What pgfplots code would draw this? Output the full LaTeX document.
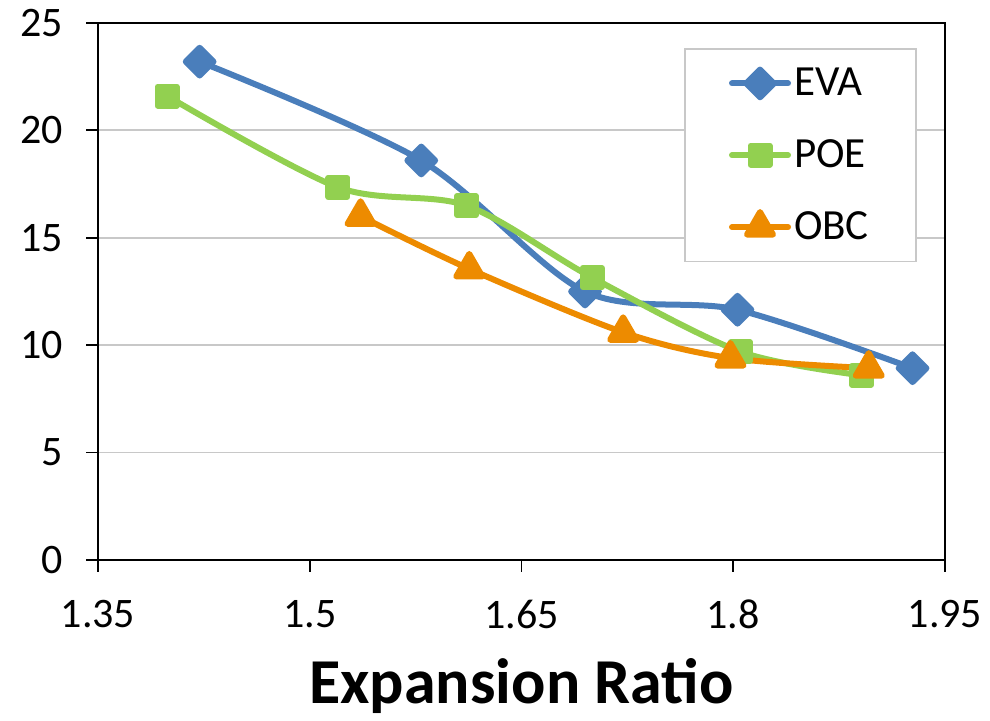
\documentclass[border=0pt]{standalone}
\usepackage{pgfplots}
\pgfplotsset{compat=1.18}
\usepackage{fontspec}
\setmainfont{Carlito}
\definecolor{evablue}{HTML}{4A7EBB}
\definecolor{poegreen}{HTML}{92D050}
\definecolor{obcorange}{HTML}{ED8B00}
\definecolor{gridgray}{HTML}{C8C8C8}
\begin{document}
\begin{tikzpicture}
\begin{axis}[
  width=423.5pt, height=268.5pt, scale only axis,
  xmin=1.35, xmax=1.95, ymin=0, ymax=25,
  xtick={1.35,1.5,1.65,1.8,1.95},
  xticklabels={1.35,1.5,1.65,1.8,1.95},
  ytick={0,5,10,15,20,25},
  yticklabels={0,5,10,15,20,25},
  axis line style={black, line width=1.2pt},
  tick style={black, line width=0.9pt},
  tick align=outside, major tick length=6pt,
  xtick pos=bottom, ytick pos=left,
  ymajorgrids, grid style={gridgray, line width=0.9pt},
  ticklabel style={font=\fontsize{21}{25}\selectfont},
  xticklabel style={yshift=-10.5pt},
  yticklabel style={xshift=-8pt},
  xlabel={\textbf{Expansion Ratio}},
  xlabel style={font=\fontsize{32}{38}\selectfont, yshift=-8pt},
  legend style={at={(0.692,0.953)}, anchor=north west, draw=gridgray, line width=0.9pt,
    font=\fontsize{21.5}{25}\selectfont, inner xsep=22pt, inner ysep=7.5pt,
    row sep=16.5pt, legend cell align=left,
    nodes={inner xsep=1.5pt}},
  legend image code/.code={\draw[mark repeat=2,mark phase=2,#1] plot coordinates {(0pt,0pt) (14pt,0pt) (28pt,0pt)};},
  every axis plot/.append style={line width=3pt, line cap=round, line join=round},
  clip=false,
]
\addplot[evablue, smooth, mark=square*, mark size=4.9pt, mark options={rotate=45, solid}] coordinates {
(1.422,23.2) (1.579,18.6) (1.695,12.5) (1.803,11.65) (1.927,8.93)};
\addlegendentry{EVA}
\addplot[poegreen, smooth, mark=square*, mark size=4.75pt] coordinates {
(1.399,21.6) (1.520,17.35) (1.611,16.5) (1.700,13.15) (1.805,9.7) (1.891,8.6)};
\addlegendentry{POE}
\addplot[obcorange, smooth, mark=triangle*, mark size=7.5pt] coordinates {
(1.536,16.0) (1.613,13.55) (1.722,10.6) (1.798,9.4) (1.896,8.93)};
\addlegendentry{OBC}
\end{axis}
\path (current axis.north west) ++(-49pt,11.5pt);
\path (current axis.south east) ++(22.5pt,-77.5pt);
\end{tikzpicture}
\end{document}
